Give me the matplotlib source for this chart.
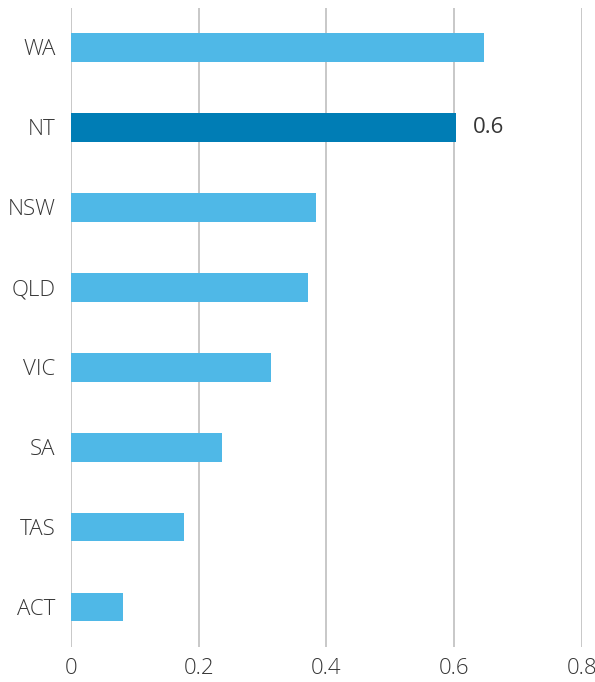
import matplotlib
matplotlib.use("Agg")
import matplotlib.pyplot as plt

categories = ["WA", "NT", "NSW", "QLD", "VIC", "SA", "TAS", "ACT"]
values = [0.647, 0.603, 0.384, 0.372, 0.314, 0.237, 0.177, 0.082]
highlight = "NT"
label_text = "0.6"
xticks = [0, 0.2, 0.4, 0.6, 0.8]
xtick_labels = ["0", "0.2", "0.4", "0.6", "0.8"]

plt.rcParams['font.family'] = ['Open Sans', 'DejaVu Sans']
text_color = "#363636"
light = "#4FB8E7"
dark = "#007DB5"

W, H = 595, 682
fig = plt.figure(figsize=(W/100, H/100), dpi=100)
ax = fig.add_axes([71/W, (H-647)/H, (581.7-71)/W, (647-7.5)/H])

ypos = list(range(len(categories)))
colors = [dark if c == highlight else light for c in categories]
ax.barh(ypos, values, height=0.36, color=colors, zorder=3)
ax.set_ylim(len(categories)-0.5, -0.5)
ax.set_xlim(0, 0.8)
ax.set_yticks(ypos)
ax.set_yticklabels(categories)
ax.set_xticks(xticks)
ax.set_xticklabels(xtick_labels)
ax.tick_params(axis='both', length=0, labelsize=16, colors=text_color)
ax.tick_params(axis='y', pad=11)
ax.tick_params(axis='x', pad=8)
for lab in ax.get_xticklabels() + ax.get_yticklabels():
    lab.set_fontweight('light')
ax.grid(axis='x', color="#BFBFBF", linewidth=1.2, zorder=0)
for s in ax.spines.values():
    s.set_visible(False)

i = categories.index(highlight)
ax.annotate(label_text, (values[i], i), xytext=(17, 0), textcoords='offset pixels',
            va='center', ha='left', fontsize=16, color=text_color)

fig.savefig("out.png", dpi=100)
